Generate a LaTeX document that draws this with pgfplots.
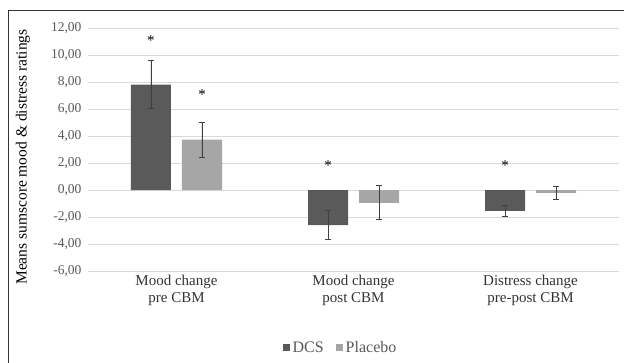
\documentclass[border=0pt]{standalone}
\usepackage{fontspec}
\setmainfont{Liberation Serif}
\usepackage{pgfplots}
\pgfplotsset{compat=1.18}
\definecolor{dcs}{HTML}{5A5A5A}
\definecolor{plac}{HTML}{A6A6A6}
\definecolor{gridc}{HTML}{D9D9D9}
\definecolor{txt}{HTML}{595959}
\begin{document}
\begin{tikzpicture}[x=1bp,y=1bp]
\begin{axis}[
  scale only axis, width=531bp, height=242.5bp,
  xmin=-0.5, xmax=2.5, ymin=-6, ymax=12,
  axis line style={draw=none},
  ytick={-6,-4,...,12},
  xtick={0,1,2},
  xticklabels={{Mood change\\pre CBM},{Mood change\\post CBM},{Distress change\\pre-post CBM}},
  xticklabel style={align=center, font=\fontsize{15bp}{17bp}\selectfont, text=black!80, yshift=-1bp},
  yticklabel style={font=\fontsize{13.5bp}{14bp}\selectfont, text=txt, xshift=-3bp},
  /pgf/number format/.cd, fixed, fixed zerofill, precision=2, use comma, 1000 sep={}, assume math mode=true,
  /pgfplots/.cd,
  major tick length=0pt,
  ymajorgrids, grid style={gridc, line width=0.9bp},
  ylabel={Means sumscore mood \& distress ratings},
  ylabel style={at={(axis description cs:-0.1224,0.47)}, anchor=center, font=\fontsize{15.5bp}{16bp}\selectfont},
  ybar, bar width=40bp,
  legend style={at={(axis description cs:0.4755,-0.3175)}, anchor=center, draw=none, legend columns=2, font=\fontsize{16bp}{16bp}\selectfont, text=txt, /tikz/every even column/.append style={column sep=10bp}, /tikz/every odd column/.append style={column sep=1bp}},
  legend image code/.code={\fill[#1] (0,-3.5bp) rectangle (7bp,3.5bp);},
]
\addplot[fill=dcs, draw=none, bar shift=-25.5bp,
  error bars/.cd, y dir=both, y explicit,
  error bar style={black!75, line width=0.6bp}, error mark options={rotate=90, mark size=3bp, black!75, line width=0.9bp}]
  coordinates {(0,7.83) +- (0,1.80) (1,-2.59) +- (0,1.08) (2,-1.53) +- (0,0.40)};
\addplot[fill=plac, draw=none, bar shift=25.5bp,
  error bars/.cd, y dir=both, y explicit,
  error bar style={black!75, line width=0.6bp}, error mark options={rotate=90, mark size=3bp, black!75, line width=0.9bp}]
  coordinates {(0,3.75) +- (0,1.31) (1,-0.94) +- (0,1.26) (2,-0.20) +- (0,0.46)};
\legend{DCS,Placebo}
\node[font=\fontsize{15bp}{15bp}\selectfont] at ([xshift=-25.5bp]axis cs:0,11.1) {*};
\node[font=\fontsize{15bp}{15bp}\selectfont] at ([xshift=25.5bp]axis cs:0,7.1) {*};
\node[font=\fontsize{15bp}{15bp}\selectfont] at ([xshift=-25.5bp]axis cs:1,1.85) {*};
\node[font=\fontsize{15bp}{15bp}\selectfont] at ([xshift=-25.5bp]axis cs:2,1.85) {*};
\coordinate (O) at (rel axis cs:0,0);
\end{axis}
\pgfresetboundingbox
\path[use as bounding box] ([shift={(-88bp,-92bp)}]O) rectangle ++(624bp,363bp);
\draw[color=black!80, line width=0.9bp] ([shift={(-79.5bp,-92bp)}]O) -- ++(0,353bp) -- ++(620bp,0);
\end{tikzpicture}
\end{document}
